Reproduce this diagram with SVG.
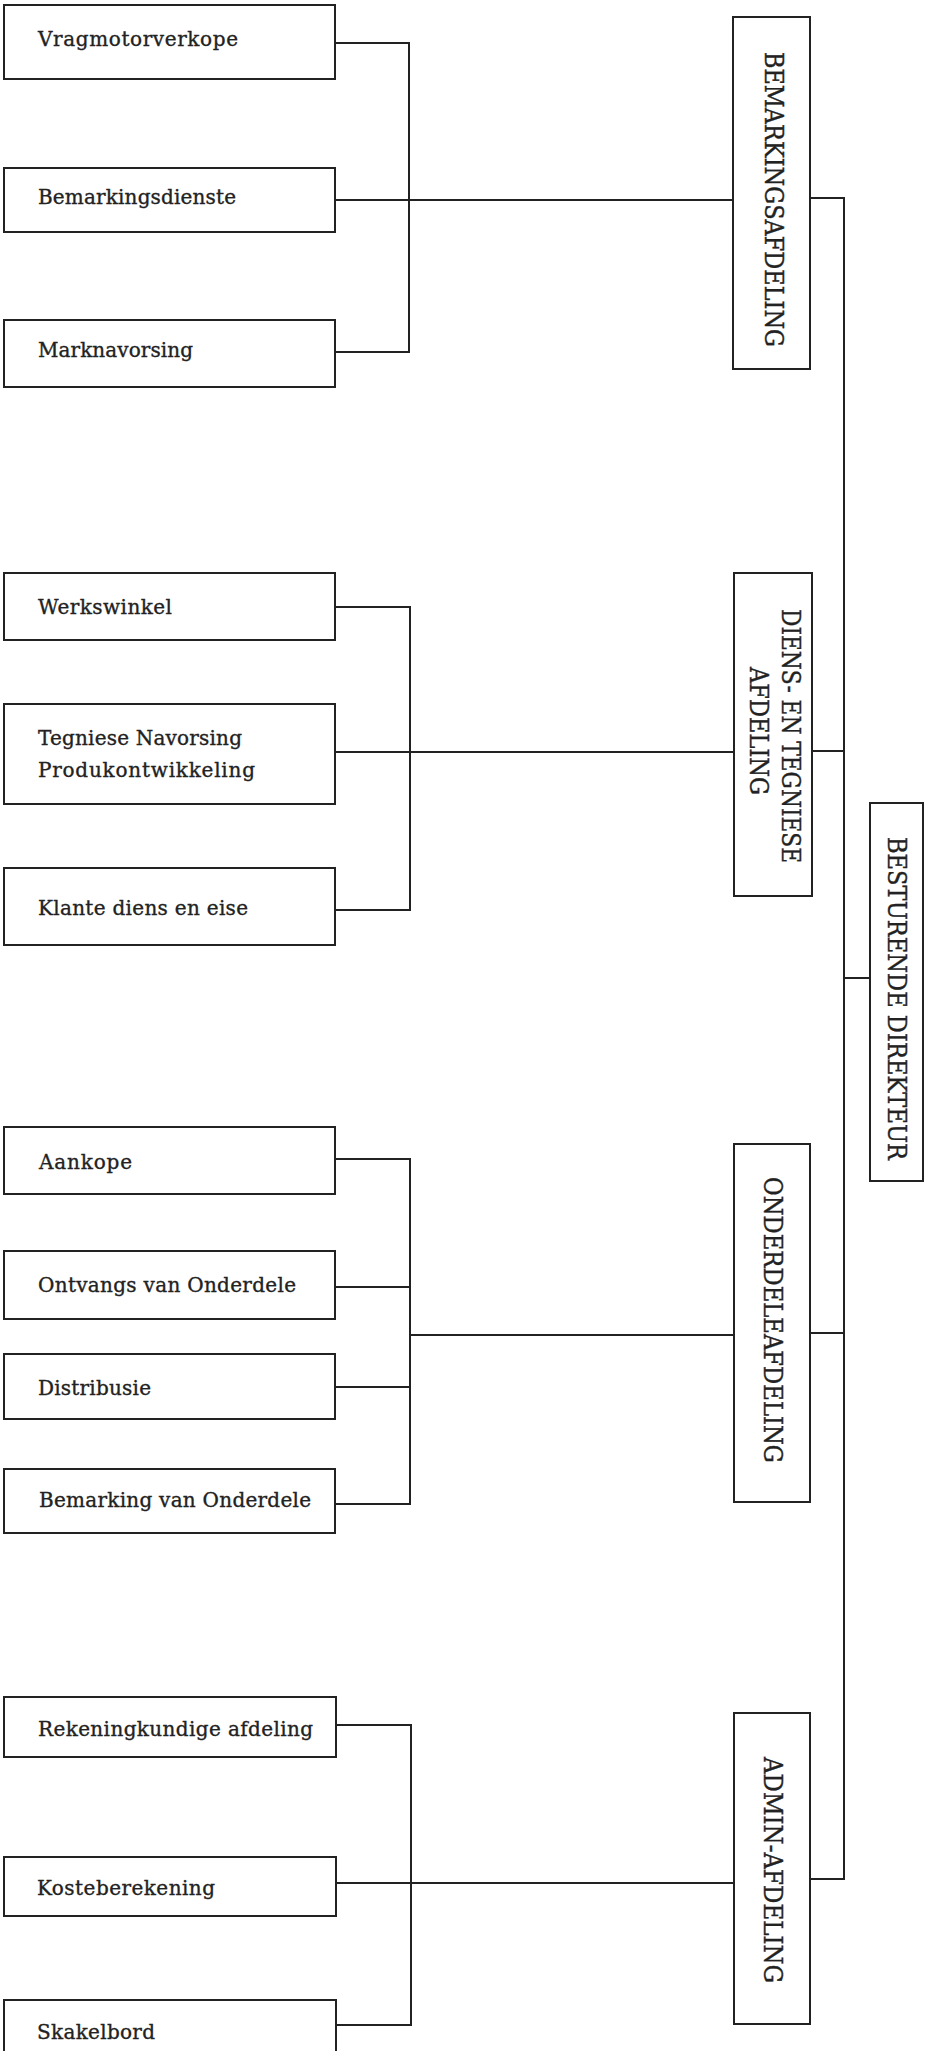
<svg xmlns="http://www.w3.org/2000/svg" width="932" height="2051" viewBox="0 0 932 2051">
<style>
.box{fill:#fff;stroke:#222;stroke-width:2}
.lbl{font-family:"DejaVu Serif","Liberation Serif",serif;font-size:20px;fill:#222;stroke:#222;stroke-width:0.35}
.vl{font-family:"DejaVu Serif","Liberation Serif",serif;font-size:26px;fill:#222;stroke:#222;stroke-width:0.4;text-anchor:middle}
.con line{stroke:#222;stroke-width:2}
</style>
<rect width="932" height="2051" fill="#fff"/>
<g class="con" id="connectors">
<line x1="335" y1="43" x2="410" y2="43"/>
<line x1="335" y1="200" x2="733" y2="200"/>
<line x1="335" y1="352" x2="410" y2="352"/>
<line x1="409" y1="42" x2="409" y2="353"/>
<line x1="810" y1="198" x2="845" y2="198"/>
<line x1="844" y1="197" x2="844" y2="1880"/>
<line x1="335" y1="607" x2="411" y2="607"/>
<line x1="335" y1="752" x2="734" y2="752"/>
<line x1="335" y1="910" x2="411" y2="910"/>
<line x1="410" y1="606" x2="410" y2="911"/>
<line x1="812" y1="751" x2="844" y2="751"/>
<line x1="844" y1="978" x2="870" y2="978"/>
<line x1="335" y1="1159" x2="411" y2="1159"/>
<line x1="335" y1="1287" x2="411" y2="1287"/>
<line x1="335" y1="1387" x2="411" y2="1387"/>
<line x1="335" y1="1504" x2="411" y2="1504"/>
<line x1="410" y1="1158" x2="410" y2="1505"/>
<line x1="410" y1="1335" x2="734" y2="1335"/>
<line x1="810" y1="1333" x2="845" y2="1333"/>
<line x1="336" y1="1725" x2="412" y2="1725"/>
<line x1="336" y1="1883" x2="734" y2="1883"/>
<line x1="336" y1="2025" x2="412" y2="2025"/>
<line x1="411" y1="1724" x2="411" y2="2026"/>
<line x1="810" y1="1879" x2="845" y2="1879"/>
</g>
<g id="n-vragmotorverkope"><rect class="box" x="4" y="5" width="331" height="74"/><text class="lbl" x="38" y="46" textLength="200">Vragmotorverkope</text></g>
<g id="n-bemarkingsdienste"><rect class="box" x="4" y="168" width="331" height="64"/><text class="lbl" x="38" y="204" textLength="198">Bemarkingsdienste</text></g>
<g id="n-marknavorsing"><rect class="box" x="4" y="320" width="331" height="67"/><text class="lbl" x="38" y="357" textLength="155">Marknavorsing</text></g>
<g id="n-werkswinkel"><rect class="box" x="4" y="573" width="331" height="67"/><text class="lbl" x="38" y="614" textLength="134">Werkswinkel</text></g>
<g id="n-tegniese"><rect class="box" x="4" y="704" width="331" height="100"/><text class="lbl" x="38" y="745" textLength="204">Tegniese Navorsing</text><text class="lbl" x="38" y="777" textLength="217">Produkontwikkeling</text></g>
<g id="n-klante"><rect class="box" x="4" y="868" width="331" height="77"/><text class="lbl" x="38" y="915" textLength="210">Klante diens en eise</text></g>
<g id="n-aankope"><rect class="box" x="4" y="1127" width="331" height="67"/><text class="lbl" x="39" y="1169" textLength="93">Aankope</text></g>
<g id="n-ontvangs"><rect class="box" x="4" y="1251" width="331" height="68"/><text class="lbl" x="38" y="1292" textLength="258">Ontvangs van Onderdele</text></g>
<g id="n-distribusie"><rect class="box" x="4" y="1354" width="331" height="65"/><text class="lbl" x="38" y="1395" textLength="113">Distribusie</text></g>
<g id="n-bemarking-onderdele"><rect class="box" x="4" y="1469" width="331" height="64"/><text class="lbl" x="39" y="1507" textLength="272">Bemarking van Onderdele</text></g>
<g id="n-rekeningkundige"><rect class="box" x="4" y="1697" width="332" height="60"/><text class="lbl" x="38" y="1736" textLength="275">Rekeningkundige afdeling</text></g>
<g id="n-kosteberekening"><rect class="box" x="4" y="1857" width="332" height="59"/><text class="lbl" x="37" y="1895" textLength="178">Kosteberekening</text></g>
<g id="n-skakelbord"><rect class="box" x="4" y="2000" width="332" height="70"/><text class="lbl" x="37" y="2039" textLength="118">Skakelbord</text></g>
<g id="n-bemarkingsafdeling"><rect class="box" x="733" y="17" width="77" height="352"/><text class="vl" transform="translate(765 199.5) rotate(90)" textLength="295" lengthAdjust="spacingAndGlyphs">BEMARKINGSAFDELING</text></g>
<g id="n-diens"><rect class="box" x="734" y="573" width="78" height="323"/><text class="vl" transform="translate(782 736) rotate(90)" textLength="254" lengthAdjust="spacingAndGlyphs">DIENS- EN TEGNIESE</text><text class="vl" transform="translate(750 731) rotate(90)" textLength="128" lengthAdjust="spacingAndGlyphs">AFDELING</text></g>
<g id="n-besturende"><rect class="box" x="870" y="803" width="53" height="378"/><text class="vl" transform="translate(888 998.5) rotate(90)" textLength="323" lengthAdjust="spacingAndGlyphs">BESTURENDE DIREKTEUR</text></g>
<g id="n-onderdeleafdeling"><rect class="box" x="734" y="1144" width="76" height="358"/><text class="vl" transform="translate(764 1320) rotate(90)" textLength="286" lengthAdjust="spacingAndGlyphs">ONDERDELEAFDELING</text></g>
<g id="n-admin"><rect class="box" x="734" y="1713" width="76" height="311"/><text class="vl" transform="translate(764 1870) rotate(90)" textLength="226" lengthAdjust="spacingAndGlyphs">ADMIN-AFDELING</text></g>
</svg>
